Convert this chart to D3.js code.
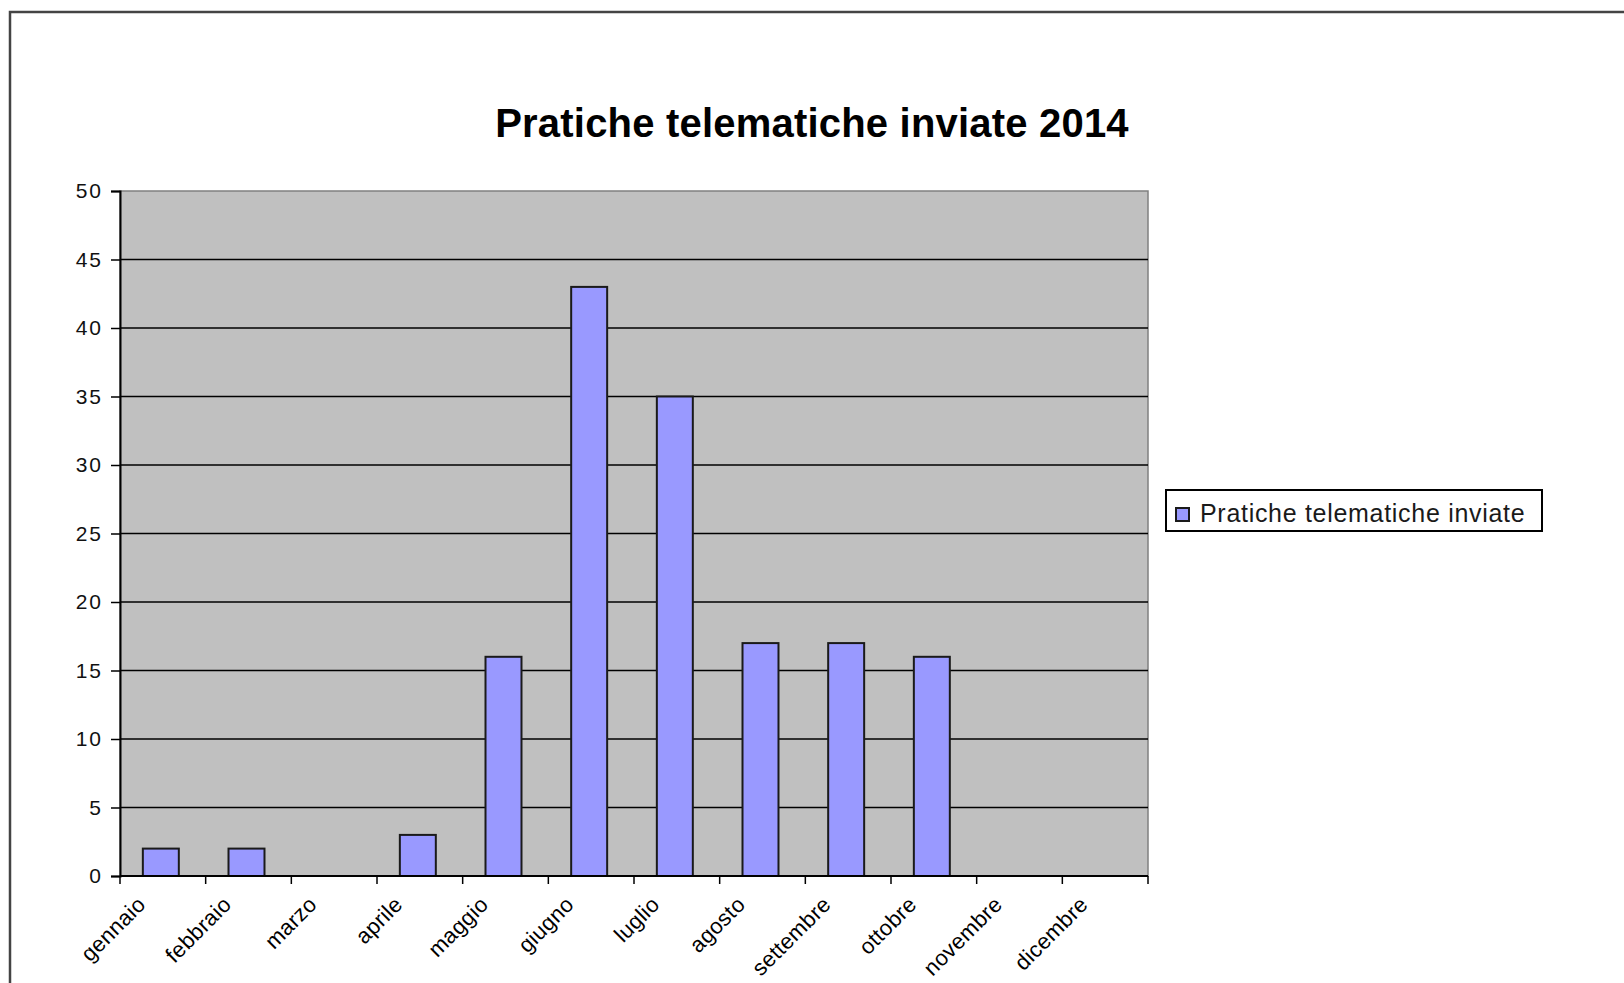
<!DOCTYPE html>
<html><head><meta charset="utf-8">
<script src="https://cdn.jsdelivr.net/npm/d3@7"></script>
<style>
body{margin:0;background:#fff;}
text{font-family:"Liberation Sans",Arial,sans-serif;}
</style>
</head><body>
<svg id="c" width="1624" height="983"></svg>
<script>
const months = ["gennaio","febbraio","marzo","aprile","maggio","giugno","luglio","agosto","settembre","ottobre","novembre","dicembre"];
const values = [2,2,0,3,16,43,35,17,17,16,0,0];
const yTicks = [0,5,10,15,20,25,30,35,40,45,50];
const chartTitle = "Pratiche telematiche inviate 2014";
const seriesName = "Pratiche telematiche inviate";

const svg = d3.select("#c");
const P = {left:120, right:1148, top:191, bottom:876};
const x = d3.scaleBand().domain(months).range([P.left, P.right]).padding(0);
const y = d3.scaleLinear().domain([0,50]).range([P.bottom, P.top]);

// outer frame
svg.append("path").attr("d", "M10,983V12H1624").attr("fill","none").attr("stroke","#444").attr("stroke-width",2.5);

// title
svg.append("text").attr("x",812).attr("y",137).attr("text-anchor","middle")
  .attr("font-size",40).attr("font-weight","bold").attr("letter-spacing","0.2px").attr("fill","#000").text(chartTitle);

// plot area
svg.append("rect").attr("x",P.left).attr("y",P.top).attr("width",P.right-P.left).attr("height",P.bottom-P.top)
  .attr("fill","#c0c0c0").attr("stroke","#808080").attr("stroke-width",1.5);

// gridlines
svg.append("g").selectAll("line").data(yTicks.filter(t=>t>0 && t<50)).join("line")
  .attr("x1",P.left).attr("x2",P.right).attr("y1",d=>y(d)).attr("y2",d=>y(d))
  .attr("stroke","#000").attr("stroke-width",1.5);

// bars
const bw = x.bandwidth()*0.42;
svg.append("g").selectAll("rect").data(months.map((m,i)=>({m,v:values[i]})).filter(d=>d.v>0)).join("rect")
  .attr("x",d=>x(d.m)+x.bandwidth()/2-bw/2-2).attr("width",bw)
  .attr("y",d=>y(d.v)).attr("height",d=>y(0)-y(d.v))
  .attr("fill","#9999ff").attr("stroke","#1a1a1a").attr("stroke-width",2);

// y axis
const ya = svg.append("g").attr("transform",`translate(${P.left},0)`)
  .call(d3.axisLeft(y).tickValues(yTicks).tickSize(9).tickPadding(8));
ya.select(".domain").attr("stroke","#000").attr("stroke-width",2);
ya.selectAll(".tick line").attr("stroke","#000").attr("stroke-width",1.5);
ya.selectAll(".tick text").attr("font-size",21).attr("letter-spacing","2px").attr("fill","#111")
  .style("font-family","'Liberation Sans',Arial,sans-serif");

// x axis line + ticks at category boundaries
svg.append("line").attr("x1",P.left).attr("x2",P.right).attr("y1",P.bottom).attr("y2",P.bottom)
  .attr("stroke","#000").attr("stroke-width",2);
const bounds = months.map(m=>x(m)).concat([P.right]);
svg.append("g").selectAll("line").data(bounds).join("line")
  .attr("x1",d=>d).attr("x2",d=>d).attr("y1",P.bottom).attr("y2",P.bottom+8)
  .attr("stroke","#000").attr("stroke-width",1.5);

// x labels
svg.append("g").selectAll("text").data(months).join("text")
  .attr("transform",d=>`translate(${x(d)+x.bandwidth()/2-16},${P.bottom+30}) rotate(-45)`)
  .attr("text-anchor","end").attr("font-size",22).attr("letter-spacing","0.3px").attr("fill","#000")
  .text(d=>d);

// legend
const lg = svg.append("g");
lg.append("rect").attr("x",1166).attr("y",490).attr("width",376).attr("height",41)
  .attr("fill","#fff").attr("stroke","#000").attr("stroke-width",2);
lg.append("rect").attr("x",1176).attr("y",508).attr("width",13).attr("height",13)
  .attr("fill","#9999ff").attr("stroke","#1a1a1a").attr("stroke-width",2);
lg.append("text").attr("x",1200).attr("y",522).attr("font-size",25).attr("letter-spacing","0.7px").attr("fill","#1a1a1a")
  .text(seriesName);
</script>
</body></html>
